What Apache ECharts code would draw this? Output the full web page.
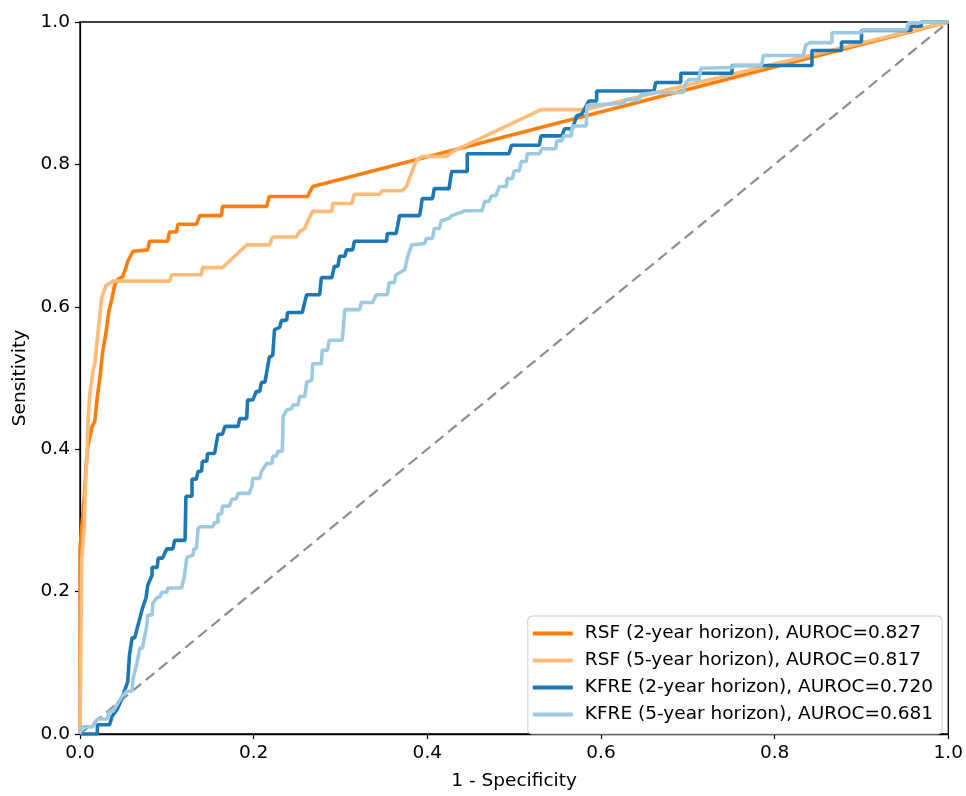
<!DOCTYPE html>
<html>
<head>
<meta charset="utf-8">
<script src="https://cdn.jsdelivr.net/npm/echarts@6/dist/echarts.min.js"></script>
<style>
html,body{margin:0;padding:0;background:#fff;}
#chart{width:966px;height:796px;}
</style>
</head>
<body>
<div id="chart"></div>
<script>
// Series names
const seriesNames = [
  'RSF (2-year horizon), AUROC=0.827',
  'RSF (5-year horizon), AUROC=0.817',
  'KFRE (2-year horizon), AUROC=0.720',
  'KFRE (5-year horizon), AUROC=0.681'
];
const seriesColors = ['#ff7f0e', '#ffbb78', '#1f77b4', '#9ecae1'];
const xTicks = [0, 0.2, 0.4, 0.6, 0.8, 1.0];

// ROC points [1 - specificity, sensitivity]
const rsf2 = [[0,0],[0,0.260],[0.002,0.260],[0.005,0.334],[0.007,0.376],[0.009,0.404],[0.014,0.432],[0.017,0.439],[0.020,0.474],[0.023,0.501],[0.026,0.536],[0.030,0.564],[0.033,0.592],[0.037,0.613],[0.040,0.631],[0.044,0.639],[0.049,0.642],[0.053,0.655],[0.055,0.664],[0.057,0.664],[0.061,0.678],[0.078,0.680],[0.080,0.692],[0.101,0.692],[0.103,0.705],[0.111,0.705],[0.113,0.716],[0.134,0.716],[0.138,0.728],[0.163,0.728],[0.164,0.741],[0.215,0.741],[0.218,0.755],[0.262,0.755],[0.268,0.769],[1,1]];

const rsf5 = [[0,0],[0.001,0.125],[0.002,0.247],[0.005,0.292],[0.006,0.338],[0.008,0.390],[0.009,0.432],[0.011,0.474],[0.015,0.511],[0.017,0.520],[0.021,0.567],[0.025,0.613],[0.030,0.630],[0.032,0.631],[0.038,0.636],[0.103,0.636],[0.106,0.645],[0.140,0.645],[0.141,0.655],[0.164,0.655],[0.172,0.664],[0.192,0.687],[0.218,0.687],[0.222,0.698],[0.249,0.698],[0.253,0.706],[0.259,0.710],[0.262,0.720],[0.268,0.734],[0.290,0.734],[0.291,0.745],[0.313,0.745],[0.316,0.758],[0.345,0.758],[0.348,0.763],[0.371,0.763],[0.376,0.769],[0.387,0.805],[0.394,0.811],[0.422,0.811],[0.429,0.818],[0.531,0.877],[0.583,0.877],[1,1]];

const kfre2 = [[0,0],[0.020,0],[0.020,0.013],[0.034,0.013],[0.037,0.025],[0.043,0.035],[0.044,0.038],[0.048,0.049],[0.052,0.063],[0.055,0.074],[0.057,0.111],[0.060,0.135],[0.063,0.135],[0.066,0.149],[0.069,0.163],[0.072,0.177],[0.076,0.191],[0.078,0.209],[0.083,0.223],[0.083,0.234],[0.089,0.234],[0.090,0.247],[0.095,0.247],[0.098,0.255],[0.100,0.260],[0.107,0.260],[0.109,0.272],[0.121,0.272],[0.122,0.334],[0.129,0.334],[0.129,0.358],[0.134,0.358],[0.136,0.369],[0.140,0.369],[0.141,0.383],[0.146,0.383],[0.147,0.394],[0.155,0.394],[0.157,0.408],[0.159,0.421],[0.164,0.421],[0.167,0.432],[0.182,0.432],[0.184,0.443],[0.192,0.443],[0.193,0.469],[0.199,0.469],[0.203,0.481],[0.207,0.481],[0.209,0.494],[0.213,0.494],[0.215,0.508],[0.218,0.529],[0.222,0.532],[0.224,0.568],[0.230,0.571],[0.232,0.581],[0.238,0.581],[0.239,0.592],[0.256,0.592],[0.261,0.617],[0.276,0.617],[0.278,0.641],[0.290,0.641],[0.293,0.657],[0.297,0.657],[0.299,0.671],[0.305,0.671],[0.307,0.680],[0.314,0.680],[0.316,0.692],[0.353,0.692],[0.354,0.703],[0.364,0.703],[0.366,0.715],[0.368,0.728],[0.391,0.728],[0.393,0.741],[0.394,0.752],[0.406,0.752],[0.408,0.766],[0.425,0.766],[0.428,0.790],[0.446,0.790],[0.446,0.815],[0.494,0.815],[0.497,0.827],[0.529,0.827],[0.531,0.840],[0.555,0.840],[0.558,0.850],[0.567,0.850],[0.572,0.868],[0.578,0.871],[0.586,0.889],[0.595,0.889],[0.595,0.903],[0.661,0.903],[0.663,0.915],[0.692,0.915],[0.692,0.928],[0.751,0.928],[0.751,0.939],[0.843,0.939],[0.843,0.960],[0.877,0.960],[0.877,0.972],[0.900,0.972],[0.900,0.988],[0.957,0.988],[0.957,0.994],[0.969,0.994],[0.969,1],[1,1]];

const kfre5 = [[0,0],[0.002,0.010],[0.014,0.010],[0.020,0.021],[0.031,0.021],[0.034,0.032],[0.038,0.032],[0.043,0.042],[0.048,0.052],[0.054,0.060],[0.060,0.060],[0.061,0.077],[0.066,0.102],[0.069,0.121],[0.072,0.121],[0.077,0.153],[0.078,0.167],[0.083,0.167],[0.084,0.184],[0.086,0.184],[0.089,0.192],[0.092,0.192],[0.094,0.199],[0.100,0.199],[0.101,0.205],[0.117,0.205],[0.120,0.220],[0.123,0.248],[0.130,0.251],[0.131,0.260],[0.134,0.260],[0.136,0.288],[0.138,0.291],[0.153,0.291],[0.155,0.297],[0.159,0.297],[0.159,0.309],[0.163,0.309],[0.164,0.320],[0.172,0.320],[0.175,0.330],[0.180,0.330],[0.182,0.338],[0.195,0.338],[0.198,0.348],[0.199,0.359],[0.207,0.359],[0.209,0.369],[0.215,0.380],[0.221,0.380],[0.222,0.390],[0.226,0.390],[0.228,0.397],[0.233,0.397],[0.234,0.446],[0.238,0.455],[0.244,0.457],[0.245,0.462],[0.251,0.462],[0.253,0.474],[0.259,0.474],[0.261,0.494],[0.267,0.497],[0.268,0.520],[0.278,0.520],[0.279,0.539],[0.285,0.539],[0.287,0.553],[0.302,0.553],[0.305,0.596],[0.322,0.596],[0.324,0.606],[0.337,0.606],[0.341,0.617],[0.354,0.617],[0.356,0.634],[0.362,0.634],[0.364,0.645],[0.374,0.652],[0.377,0.669],[0.382,0.687],[0.397,0.689],[0.399,0.696],[0.406,0.696],[0.408,0.710],[0.414,0.710],[0.416,0.721],[0.425,0.724],[0.428,0.728],[0.440,0.733],[0.443,0.735],[0.463,0.735],[0.466,0.748],[0.471,0.748],[0.474,0.756],[0.479,0.756],[0.483,0.769],[0.491,0.769],[0.492,0.780],[0.498,0.780],[0.500,0.791],[0.506,0.791],[0.508,0.804],[0.514,0.804],[0.515,0.815],[0.529,0.815],[0.532,0.822],[0.548,0.822],[0.549,0.833],[0.555,0.833],[0.557,0.840],[0.566,0.840],[0.567,0.854],[0.583,0.854],[0.584,0.883],[0.598,0.884],[0.626,0.886],[0.629,0.891],[0.644,0.891],[0.646,0.898],[0.661,0.901],[0.695,0.901],[0.698,0.915],[0.701,0.919],[0.713,0.919],[0.715,0.935],[0.751,0.936],[0.753,0.939],[0.785,0.939],[0.787,0.953],[0.833,0.953],[0.836,0.968],[0.841,0.971],[0.866,0.971],[0.866,0.985],[0.900,0.985],[0.902,0.989],[0.952,0.989],[0.954,0.999],[1,1]];

const chanceLine = [[0,0],[1,1]];

const FONT = 'DejaVu Sans';
const FS = 18.5;
const chart = echarts.init(document.getElementById('chart'), null, {renderer: 'canvas'});

const dataSets = [rsf2, rsf5, kfre2, kfre5];
const series = [{
  name: 'chance',
  type: 'line',
  data: chanceLine,
  showSymbol: false,
  symbol: 'none',
  silent: true,
  lineStyle: {color: '#8f8f8f', width: 2.2, type: [11, 6]},
  z: 1
}];
dataSets.forEach((d, i) => {
  series.push({
    name: seriesNames[i],
    type: 'line',
    data: d,
    showSymbol: false,
    symbol: 'none',
    color: seriesColors[i],
    lineStyle: {color: seriesColors[i], width: 3.6},
    z: 2 + i
  });
});

const axisCommon = {
  type: 'value',
  min: 0,
  max: 1,
  interval: 0.2,
  splitLine: {show: false},
  axisLine: {show: true, lineStyle: {color: '#000', width: 1.3}},
  axisTick: {show: true, length: 5, inside: false, lineStyle: {color: '#000', width: 1.2}},
  axisLabel: {
    color: '#000',
    fontSize: FS,
    fontFamily: FONT,
    formatter: v => v.toFixed(1)
  },
  nameLocation: 'middle',
  nameTextStyle: {color: '#000', fontSize: FS, fontFamily: FONT}
};

chart.setOption({
  animation: false,
  backgroundColor: '#fff',
  grid: {
    left: 80, right: 16, top: 22, bottom: 56,
    show: true, borderColor: '#000', borderWidth: 1.3, backgroundColor: 'transparent'
  },
  xAxis: Object.assign({}, axisCommon, {
    name: '1 - Specificity',
    nameGap: 38,
    axisLabel: Object.assign({}, axisCommon.axisLabel, {margin: 10})
  }),
  yAxis: Object.assign({}, axisCommon, {
    name: 'Sensitivity',
    nameGap: 48,
    axisLabel: Object.assign({}, axisCommon.axisLabel, {margin: 10})
  }),
  legend: {
    data: seriesNames.map((n, i) => ({name: n, icon: 'rect'})),
    orient: 'vertical',
    right: 24,
    bottom: 62,
    itemWidth: 40,
    itemHeight: 4,
    itemGap: 8,
    padding: [8, 9, 10, 5],
    backgroundColor: 'rgba(255,255,255,0.85)',
    borderColor: '#cccccc',
    borderWidth: 1,
    borderRadius: 4,
    textStyle: {color: '#000', fontSize: FS, fontFamily: FONT, padding: [0, 0, 0, 7]}
  },
  series: series
});
</script>
</body>
</html>
